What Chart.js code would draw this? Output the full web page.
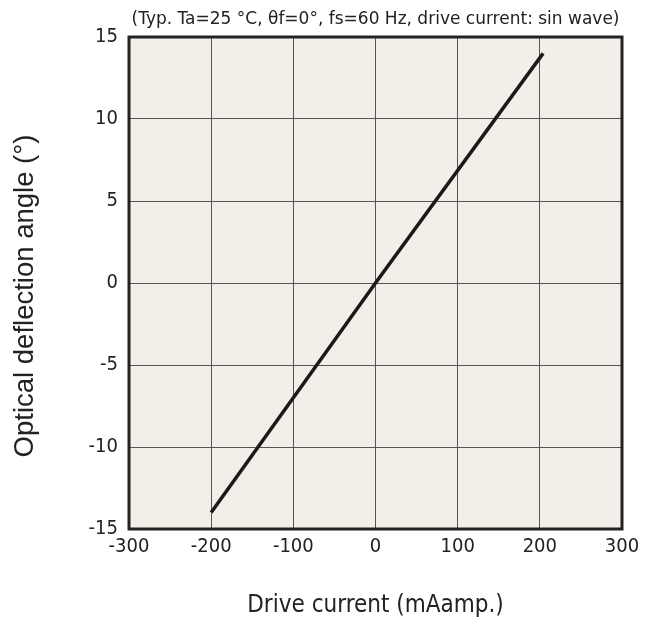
<!DOCTYPE html>
<html>
<head>
<meta charset="utf-8">
<script src="https://cdn.jsdelivr.net/npm/chart.js@4/dist/chart.umd.min.js"></script>
<style>
html,body{margin:0;padding:0;background:#fff;}
#wrap{width:654px;height:626px;position:relative;}
</style>
</head>
<body>
<div id="wrap"><canvas id="c" width="654" height="626"></canvas></div>
<script>
// Data
const driveCurrent = [-200, 0, 204];        // mA
const deflectionAngle = [-14.0, 0, 14.0];   // degrees
const xTicks = [-300, -200, -100, 0, 100, 200, 300];
const yTicks = [-15, -10, -5, 0, 5, 10, 15];
const chartTitle = '(Typ. Ta=25 °C, θf=0°, fs=60 Hz, drive current: sin wave)';
const xTitle = 'Drive current (mAamp.)';
const yTitle = 'Optical deflection angle (°)';

const points = driveCurrent.map((x, i) => ({x: x, y: deflectionAngle[i]}));

const frame = {
  id: 'frame',
  beforeDraw(chart) {
    const {ctx, chartArea: a} = chart;
    ctx.save();
    ctx.fillStyle = '#f1efe7';
    ctx.fillRect(a.left, a.top, a.right - a.left, a.bottom - a.top);
    ctx.restore();
  },
  afterDraw(chart) {
    const {ctx, chartArea: a} = chart;
    ctx.save();
    ctx.strokeStyle = '#222';
    ctx.lineWidth = 3;
    ctx.strokeRect(a.left, a.top, a.right - a.left, a.bottom - a.top);
    // y axis title
    ctx.translate(25, (a.top + a.bottom) / 2 + 13);
    ctx.rotate(-Math.PI / 2);
    ctx.fillStyle = '#222';
    ctx.font = '27.5px "Liberation Sans", Arial, sans-serif';
    ctx.textAlign = 'center';
    ctx.textBaseline = 'middle';
    ctx.fillText(yTitle, 0, 0);
    ctx.restore();
  }
};

new Chart(document.getElementById('c'), {
  type: 'scatter',
  data: {
    datasets: [{
      data: points,
      showLine: true,
      borderColor: '#1a1a1a',
      borderWidth: 3.5,
      pointRadius: 0,
      fill: false
    }]
  },
  options: {
    responsive: false,
    animation: false,
    layout: {padding: {left: 0, right: 32, top: 0, bottom: 0}},
    plugins: {
      legend: {display: false},
      tooltip: {enabled: false},
      title: {
        display: true,
        text: chartTitle,
        fullSize: false,
        color: '#222',
        font: {family: '"DejaVu Sans", sans-serif', size: 17, weight: 'normal', lineHeight: 1.2},
        padding: {top: 9, bottom: 7.6}
      }
    },
    scales: {
      x: {
        type: 'linear',
        min: -300, max: 300,
        afterBuildTicks(s) { s.ticks = xTicks.map(v => ({value: v})); },
        afterFit(s) { s.height = 97; },
        grid: {color: '#555', lineWidth: 1, drawTicks: false},
        border: {display: false},
        ticks: {
          color: '#222', padding: 6,
          font: {family: '"DejaVu Sans Condensed", "DejaVu Sans", sans-serif', size: 20}
        },
        title: {
          display: true, text: xTitle, color: '#222',
          font: {family: '"DejaVu Sans Condensed", "DejaVu Sans", sans-serif', size: 24},
          padding: {top: 0, bottom: 6}
        }
      },
      y: {
        type: 'linear',
        min: -15, max: 15,
        afterBuildTicks(s) { s.ticks = yTicks.map(v => ({value: v})); },
        afterFit(s) { s.width = 129; },
        grid: {color: '#555', lineWidth: 1, drawTicks: false},
        border: {display: false},
        ticks: {
          color: '#222', padding: 11,
          font: {family: '"DejaVu Sans Condensed", "DejaVu Sans", sans-serif', size: 20}
        }
      }
    }
  },
  plugins: [frame]
});
</script>
</body>
</html>
